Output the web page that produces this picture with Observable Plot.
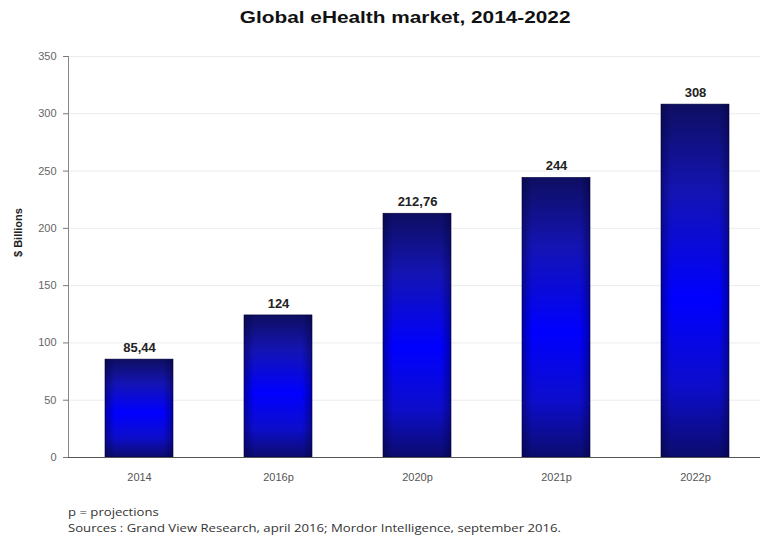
<!DOCTYPE html>
<html><head><meta charset="utf-8">
<script src="https://cdn.jsdelivr.net/npm/d3@7"></script>
<script src="https://cdn.jsdelivr.net/npm/@observablehq/plot@0.6"></script>
<style>
body{margin:0;background:#fff;width:760px;height:540px;overflow:hidden;font-family:"Liberation Sans",Arial,sans-serif;}
#title{height:40px;box-sizing:border-box;padding-top:8px;line-height:20px;text-align:center;padding-left:50px;}
#title span{display:inline-block;font-weight:bold;font-size:16px;color:#111;transform:scaleX(1.3);}
#cap{padding-left:68px;font-family:"Open Sans","Liberation Sans",sans-serif;font-size:10.5px;color:#333;line-height:16px;padding-top:4px;transform:scaleX(1.25);transform-origin:68px 0;}
</style></head>
<body>
<div id="title"><span>Global eHealth market, 2014-2022</span></div>
<div id="chart"></div>
<div id="cap">p = projections<br>Sources : Grand View Research, april 2016; Mordor Intelligence, september 2016.</div>
<script>
const categories = ["2014", "2016p", "2020p", "2021p", "2022p"];
const values = [85.44, 124, 212.76, 244, 308];
const valueLabels = ["85,44", "124", "212,76", "244", "308"];
const yTicks = [0, 50, 100, 150, 200, 250, 300, 350];

const data = categories.map((c, i) => ({cat: c, v: values[i], label: valueLabels[i]}));

const svg = Plot.plot({
  width: 760, height: 460,
  marginLeft: 68, marginRight: 0, marginTop: 16, marginBottom: 43,
  style: {fontFamily: "Liberation Sans, Arial, sans-serif", background: "#fff"},
  x: {domain: categories, range: [68, 766], paddingInner: 0.51, paddingOuter: 0.26, label: null},
  y: {domain: [0, 350], label: null},
  marks: [
    Plot.ruleY(yTicks.filter(d => d > 0), {stroke: "#ebebeb", strokeWidth: 1}),
    Plot.barY(data, {x: "cat", y: "v", fill: "url(#barGradV)", stroke: "#00003a", strokeWidth: 0.6}),
    Plot.barY(data, {x: "cat", y: "v", fill: "url(#barGradH)"}),
    Plot.text(data, {x: "cat", y: "v", text: "label", dy: -12, fontWeight: "bold", fontSize: 13, letterSpacing: 0.6, fill: "#222"}),
    Plot.axisY({ticks: yTicks, tickSize: 5, tickPadding: 7, fontSize: 11, color: "#666", stroke: "#777"}),
    Plot.axisX({tickSize: 0, tickPadding: 16, fontSize: 11, color: "#555"}),
    Plot.frame({anchor: "left", stroke: "#888"}),
    Plot.ruleY([0], {stroke: "#555", strokeWidth: 1.2}),
    Plot.text(["$ Billions"], {frameAnchor: "left", dx: -50, rotate: -90, fontWeight: "bold", fontSize: 11, fill: "#222"})
  ]
});
svg.insertAdjacentHTML("afterbegin", `<defs>
<linearGradient id="barGradV" x1="0" y1="0" x2="0" y2="1">
<stop offset="0" stop-color="#0e0e62"/>
<stop offset="0.25" stop-color="#1414b4"/>
<stop offset="0.55" stop-color="#0000ff"/>
<stop offset="0.8" stop-color="#0d0dcc"/>
<stop offset="1" stop-color="#0c0c6e"/>
</linearGradient>
<linearGradient id="barGradH" x1="0" y1="0" x2="1" y2="0">
<stop offset="0" stop-color="#000030" stop-opacity="0.4"/>
<stop offset="0.15" stop-color="#000030" stop-opacity="0"/>
<stop offset="0.85" stop-color="#000030" stop-opacity="0"/>
<stop offset="1" stop-color="#000030" stop-opacity="0.4"/>
</linearGradient></defs>`);
document.getElementById("chart").appendChild(svg);
</script>
</body></html>
